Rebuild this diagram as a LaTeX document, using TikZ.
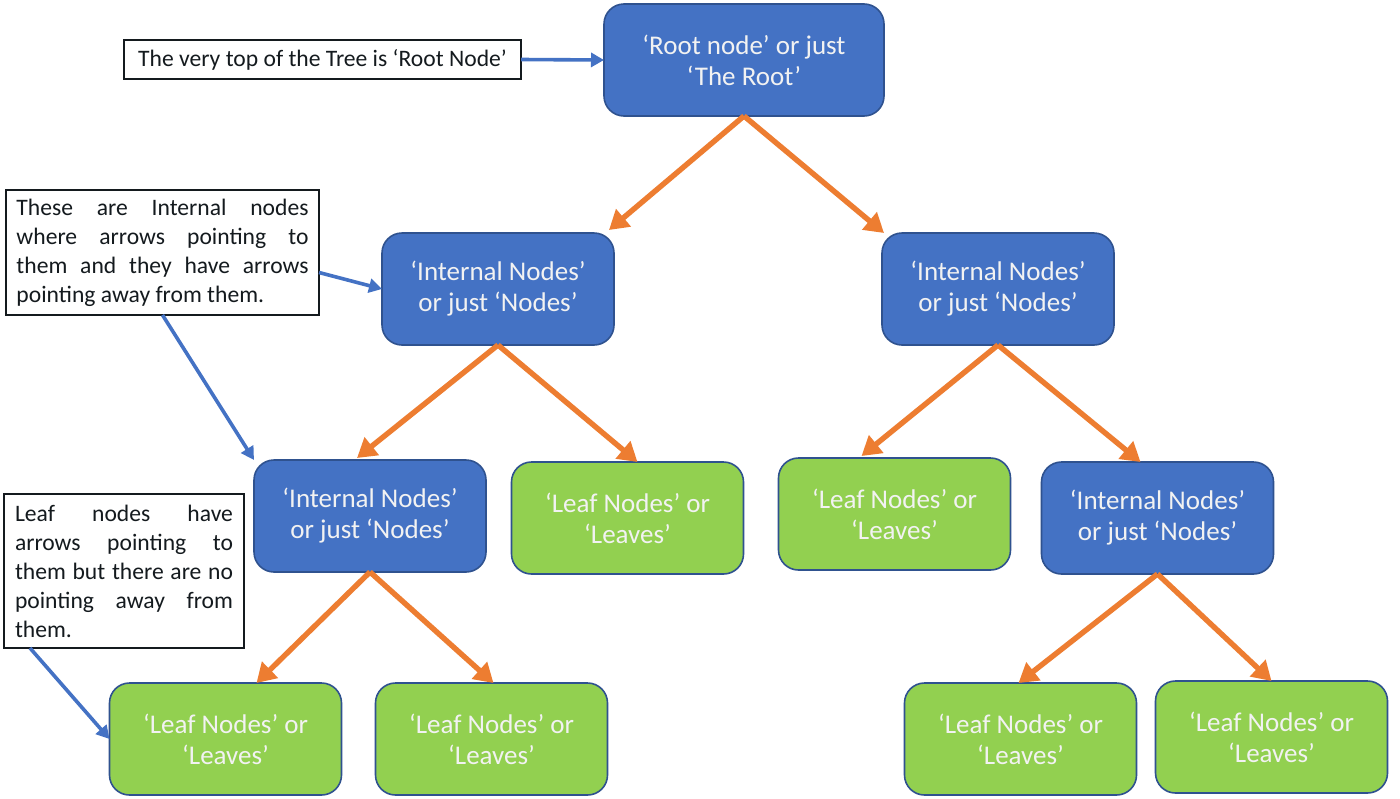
\documentclass[tikz,border=0pt]{standalone}
\usepackage{fontspec}
\setmainfont{Carlito}
\usetikzlibrary{arrows.meta,calc}
\definecolor{nodeblue}{HTML}{4472C4}
\definecolor{leafgreen}{HTML}{92D050}
\definecolor{edgeorange}{HTML}{ED7D31}
\definecolor{borderblue}{HTML}{2F528F}
\definecolor{nodetext}{HTML}{F2F2F2}
\definecolor{notetext}{HTML}{141A1E}
\tikzset{
  treebox/.style={draw=borderblue, line width=0.8pt, rounded corners=10pt,
    minimum width=116pt, minimum height=56pt, inner sep=0pt, outer sep=0pt,
    align=center, text=nodetext, font=\fontsize{13.5}{15.5}\selectfont},
  inbox/.style={treebox, fill=nodeblue},
  leafbox/.style={treebox, fill=leafgreen},
  notebox/.style={draw=notetext, line width=0.7pt, fill=white, inner ysep=0pt,
    outer sep=0pt, text=notetext, font=\fontsize{11.8}{14.5}\selectfont},
  treeedge/.style={draw=edgeorange, line width=2.7pt,
    -{Triangle[length=9.5pt,width=11pt]}},
  noteedge/.style={draw=nodeblue, line width=1.8pt,
    -{Triangle[length=6.5pt,width=7pt]}}
}
\begin{document}
\begin{tikzpicture}[x=0.5pt,y=-0.5pt]
\useasboundingbox[fill=white] (0,0) rectangle (1400,798);

% tree nodes
\node[inbox, minimum width=140pt] (root) at (744,60) {‘Root node’ or just\\‘The Root’};
\node[inbox] (l1a) at (498,289) {‘Internal Nodes’\\or just ‘Nodes’};
\node[inbox] (l1b) at (998,289) {‘Internal Nodes’\\or just ‘Nodes’};
\node[inbox] (l2a) at (370,516) {‘Internal Nodes’\\or just ‘Nodes’};
\node[leafbox] (leafA) at (627.5,518) {‘Leaf Nodes’ or\\‘Leaves’};
\node[leafbox] (leafB) at (894.5,514) {‘Leaf Nodes’ or\\‘Leaves’};
\node[inbox] (l2b) at (1157.5,518) {‘Internal Nodes’\\or just ‘Nodes’};
\node[leafbox] (leaf1) at (225.5,739) {‘Leaf Nodes’ or\\‘Leaves’};
\node[leafbox] (leaf2) at (491.5,739) {‘Leaf Nodes’ or\\‘Leaves’};
\node[leafbox] (leaf3) at (1020.5,739) {‘Leaf Nodes’ or\\‘Leaves’};
\node[leafbox] (leaf4) at (1271.5,737) {‘Leaf Nodes’ or\\‘Leaves’};

% notes
\node[notebox, minimum width=198.5pt, minimum height=19.5pt, inner xsep=5pt] (n1) at (322.5,59.5)
  {The very top of the Tree is ‘Root Node’};
\node[notebox, text width=146pt, inner xsep=5.25pt, minimum height=62.5pt, align=justify] (n2) at (162.5,252.5)
  {These are Internal nodes\linebreak where arrows pointing to\linebreak them and they have arrows\linebreak pointing away from them.};
\node[notebox, text width=109pt, inner xsep=5.5pt, minimum height=77pt, align=justify] (n3) at (124,571)
  {Leaf nodes have\linebreak arrows pointing to\linebreak them but there are no\linebreak pointing away from\linebreak them.};

% tree edges
\draw[treeedge] (root.south) -- ([xshift=-2.5pt,yshift=1.5pt]l1a.north east);
\draw[treeedge] (root.south) -- ([xshift=1pt]l1b.north west);
\draw[treeedge] (l1a.south) -- ([xshift=-6.5pt,yshift=1pt]l2a.north);
\draw[treeedge] (l1a.south) -- ([xshift=5pt]leafA.north);
\draw[treeedge] (l1b.south) -- ([xshift=-16.5pt,yshift=1pt]leafB.north);
\draw[treeedge] (l1b.south) -- ([xshift=-8.5pt]l2b.north);
\draw[treeedge] (l2a.south) -- ([xshift=15.5pt]leaf1.north);
\draw[treeedge] (l2a.south) -- ([xshift=1pt]leaf2.north);
\draw[treeedge] (l2b.south) -- ([xshift=-1pt]leaf3.north);
\draw[treeedge] (l2b.south) -- (leaf4.north);

% note edges
\draw[noteedge] (n1.east) -- (root.west);
\draw[noteedge] ([yshift=-10pt]n2.east) -- (l1a.west);
\draw[noteedge] (n2.south) -- (l2a.north west);
\draw[noteedge] ([xshift=13pt]n3.south west) -- (leaf1.west);
\end{tikzpicture}
\end{document}
